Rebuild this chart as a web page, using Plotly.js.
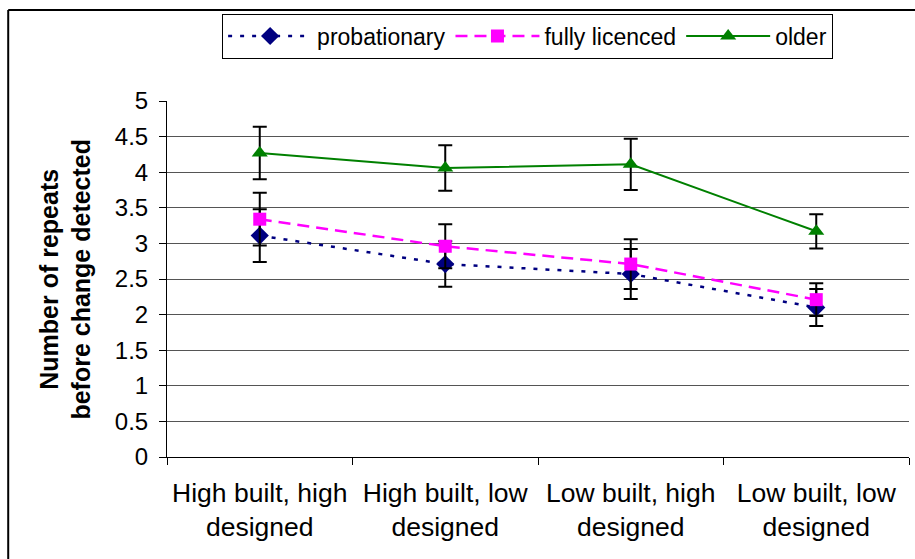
<!DOCTYPE html>
<html>
<head>
<meta charset="utf-8">
<script src="https://cdn.plot.ly/plotly-3.0.1.min.js"></script>
<style>
  html, body { margin: 0; padding: 0; background: #fff; }
  #chart { width: 915px; height: 559px; }
</style>
</head>
<body>
<div id="chart"></div>
<script>
// Mean number of repeats before a change was detected, by scene type and driver group
const categories = [
  'High built, high<br>designed',
  'High built, low<br>designed',
  'Low built, high<br>designed',
  'Low built, low<br>designed'
];
const probationary = [3.11, 2.71, 2.57, 2.10];
const probationaryErr = [0.37, 0.32, 0.35, 0.26];
const fullyLicenced = [3.34, 2.96, 2.71, 2.21];
const fullyLicencedErr = [0.37, 0.31, 0.35, 0.23];
const older = [4.27, 4.06, 4.11, 3.17];
const olderErr = [0.37, 0.32, 0.36, 0.24];
const yTicks = [0, 0.5, 1, 1.5, 2, 2.5, 3, 3.5, 4, 4.5, 5];

const FONT = 'Liberation Sans, Arial, sans-serif';

function errBars(arr) {
  return { type: 'data', array: arr, visible: true, color: '#000', thickness: 2, width: 7 };
}

const traces = [
  {
    name: 'probationary', x: categories, y: probationary, type: 'scatter', mode: 'lines+markers',
    line: { color: '#000080', width: 2.5, dash: '4px,8px' },
    marker: { symbol: 'diamond', size: 14, color: '#000080' },
    error_y: errBars(probationaryErr)
  },
  {
    name: 'fully licenced', x: categories, y: fullyLicenced, type: 'scatter', mode: 'lines+markers',
    line: { color: '#FF00FF', width: 2.5, dash: '12px,7px' },
    marker: { symbol: 'square', size: 13, color: '#FF00FF' },
    error_y: errBars(fullyLicencedErr)
  },
  {
    name: 'older', x: categories, y: older, type: 'scatter', mode: 'lines+markers',
    line: { color: '#008000', width: 2 },
    marker: { symbol: 'triangle-up', size: 14, color: '#008000' },
    error_y: errBars(olderErr)
  }
];

const layout = {
  width: 915, height: 559,
  margin: { l: 167, r: 6, t: 101, b: 102 },
  paper_bgcolor: '#fff', plot_bgcolor: '#fff',
  font: { family: FONT, color: '#000', size: 23 },
  showlegend: true,
  legend: {
    orientation: 'h', x: 0.486, xanchor: 'center', y: 1.2456, yanchor: 'top',
    bordercolor: '#000', borderwidth: 1, bgcolor: '#fff',
    font: { family: FONT, size: 23, color: '#000' },
    traceorder: 'normal', itemwidth: 84
  },
  xaxis: {
    type: 'category', range: [-0.5, 3.5],
    showline: true, linecolor: '#000', linewidth: 1,
    ticks: 'outside', tickson: 'boundaries', ticklen: 7, tickcolor: '#000',
    showgrid: false, zeroline: false,
    ticklabelstandoff: 12,
    tickfont: { family: FONT, size: 26.5, color: '#000' },
    automargin: false
  },
  yaxis: {
    range: [0, 5], tickvals: yTicks, ticktext: yTicks.map(String),
    showline: true, linecolor: '#000', linewidth: 1,
    ticks: 'outside', ticklen: 7, tickcolor: '#000',
    showgrid: true, gridcolor: '#555', gridwidth: 1, zeroline: false,
    ticklabelstandoff: 6,
    tickfont: { family: FONT, size: 24, color: '#000' },
    automargin: false
  },
  annotations: [
    {
      text: '<b>Number of repeats<br>before change detected</b>',
      xref: 'paper', yref: 'paper', x: -0.138, y: 0.5,
      xanchor: 'center', yanchor: 'middle', textangle: -90, showarrow: false,
      font: { family: FONT, size: 25, color: '#000' }
    }
  ],
  shapes: [
    // outer frame: top and left edges
    { type: 'line', xref: 'paper', yref: 'paper', x0: -0.214, x1: 1.01, y0: 1.2556, y1: 1.2556,
      line: { color: '#000', width: 2 } },
    { type: 'line', xref: 'paper', yref: 'paper', x0: -0.214, x1: -0.214, y0: 1.2556, y1: -0.29,
      line: { color: '#000', width: 2 } }
  ]
};

Plotly.newPlot('chart', traces, layout, { displayModeBar: false, staticPlot: true });
</script>
</body>
</html>
